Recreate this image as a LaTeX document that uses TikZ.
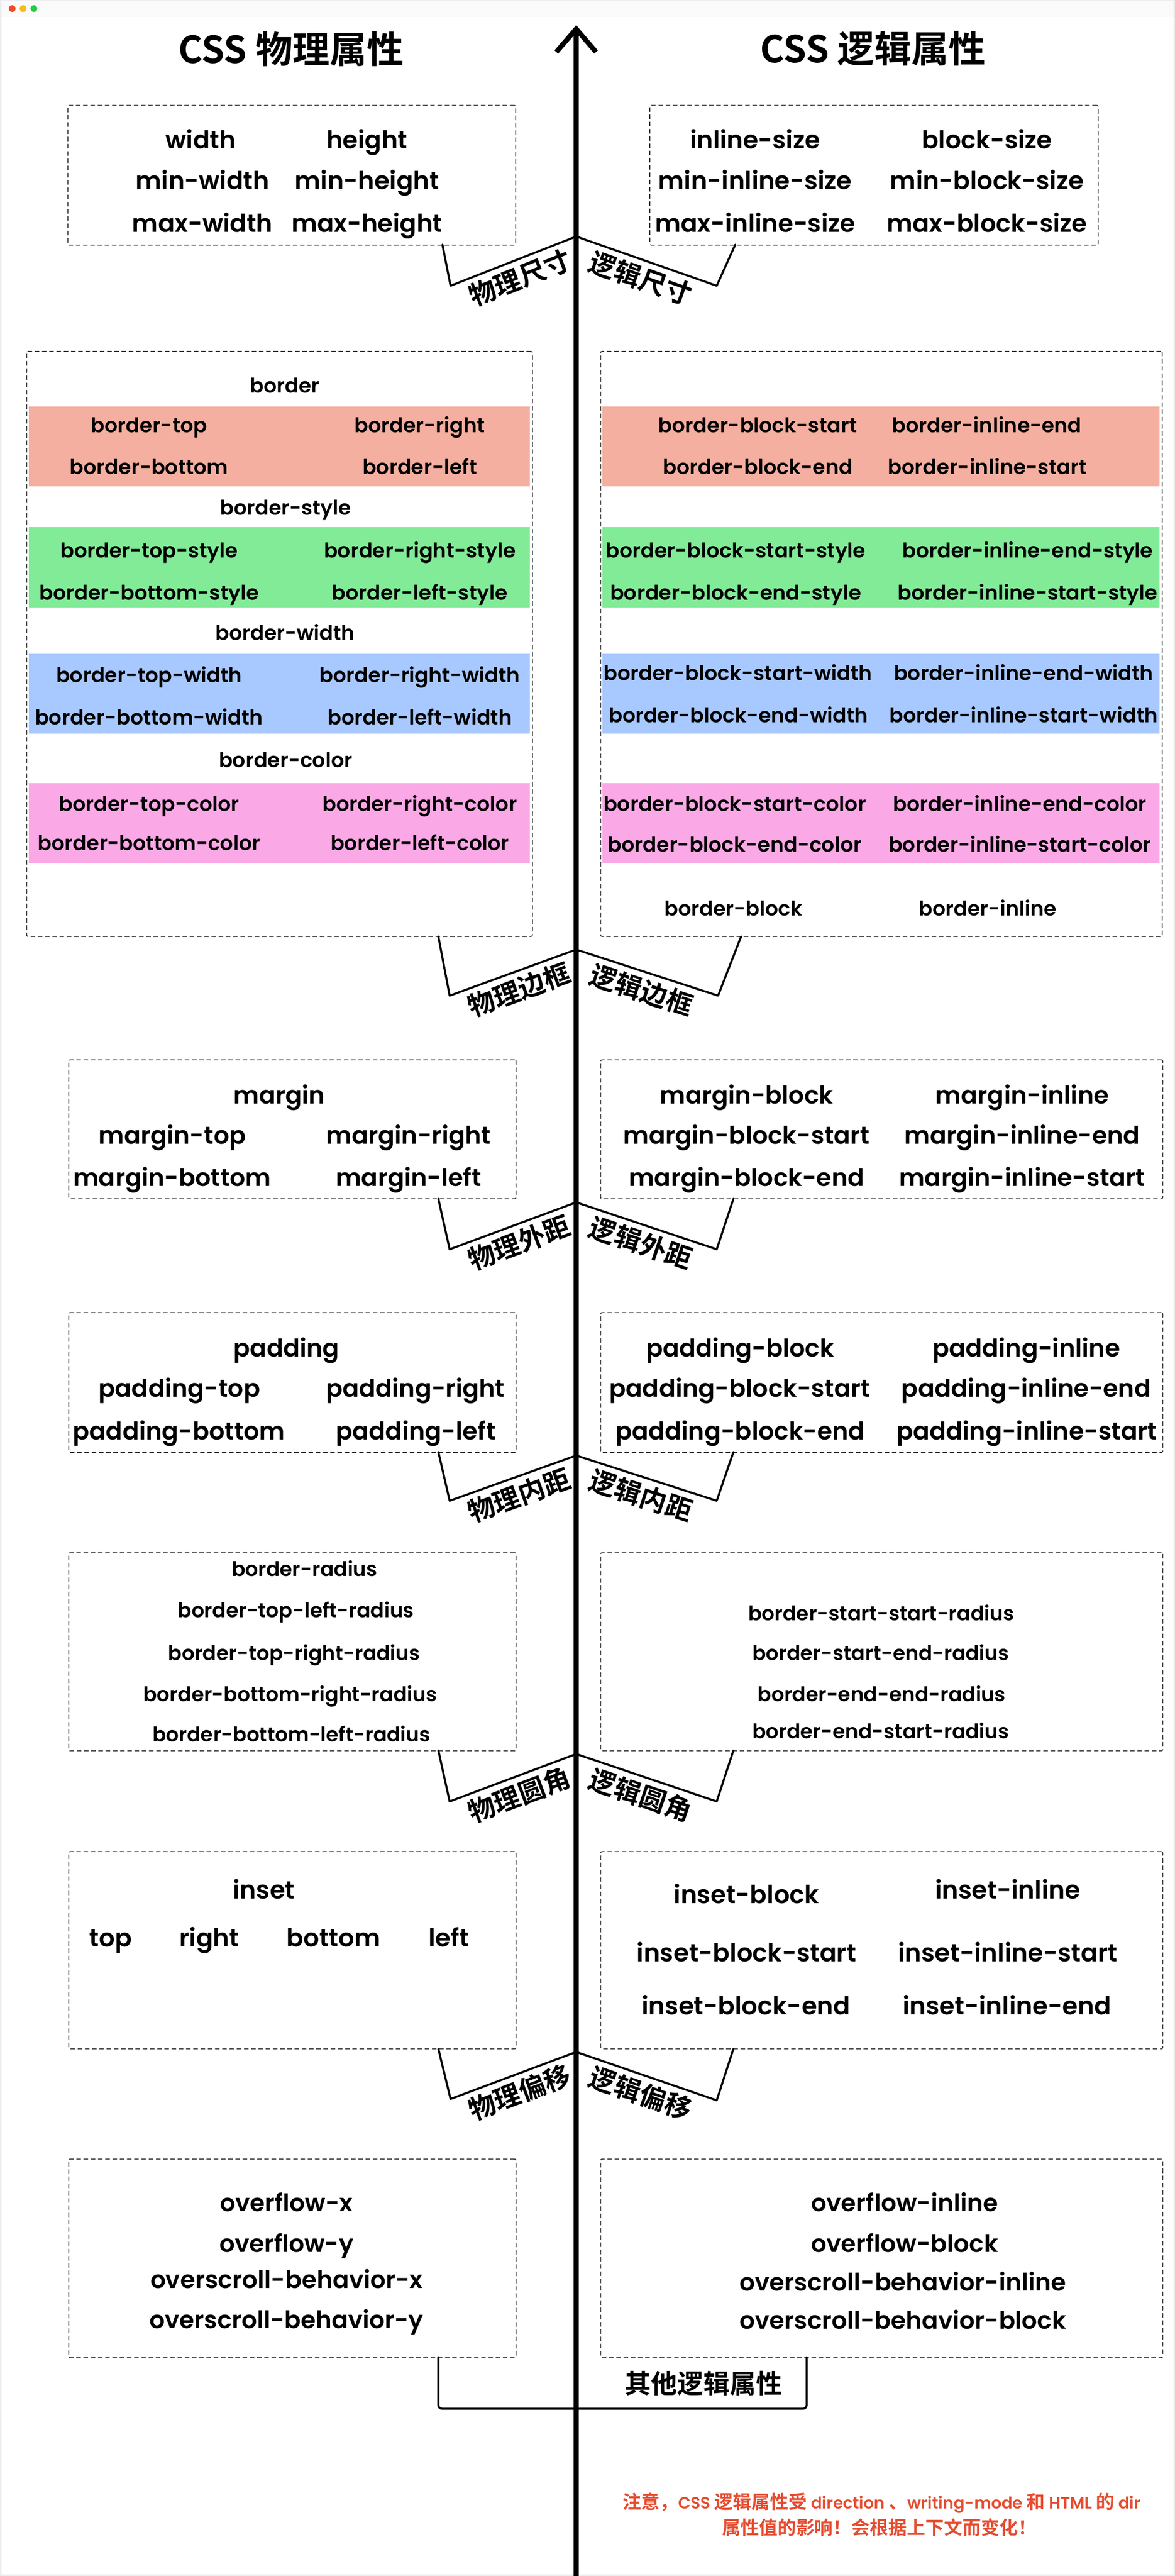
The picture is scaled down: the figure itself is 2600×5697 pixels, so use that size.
\documentclass[tikz,border=0pt]{standalone}
\usepackage{fontspec}
\setmainfont{Poppins}[UprightFont=* SemiBold, BoldFont=* Bold]
\newfontfamily\cjk{Noto Sans CJK SC}[UprightFont=* Bold]
\usetikzlibrary{calc}
\definecolor{bandred}{HTML}{F4AFA0}
\definecolor{bandgreen}{HTML}{82EB97}
\definecolor{bandblue}{HTML}{A8C9FF}
\definecolor{bandpink}{HTML}{FAA9E6}
\definecolor{notered}{HTML}{E64B2E}
\definecolor{dotred}{HTML}{EE4A2A}
\definecolor{dotyellow}{HTML}{FBBB17}
\definecolor{dotgreen}{HTML}{22CC44}
\newcommand\fsz[1]{\fontsize{#1}{#1}\selectfont}
\newcounter{tn}
\newcommand\tx[4]{\stepcounter{tn}\node[#1] (t\arabic{tn}) at (#2,#3) {#4};}
\newcommand\boxat[5]{\node[box, minimum width=#4pt, minimum height=#5pt] (#1) at (#2,#3) {};}
\begin{document}
\begin{tikzpicture}[x=1pt,y=-1pt,
  box/.style={draw=black!80, line width=2pt, dash pattern=on 10pt off 6pt, rounded corners=3pt, inner sep=0pt, anchor=north west},
  txt/.style={inner sep=0pt, anchor=base, text=black},
  sA/.style={txt, font=\fsz{54.5}, yshift=-20pt},
  sB/.style={txt, font=\fsz{45}, yshift=-17pt},
  sC/.style={txt, font=\fsz{54}, yshift=-20pt},
  sR/.style={txt, font=\fsz{44.5}, yshift=-16.5pt},
  sI/.style={txt, font=\fsz{55}, yshift=-20pt},
  sJ/.style={txt, font=\fsz{55}, yshift=-20pt},
  sO/.style={txt, font=\fsz{53.5}, yshift=-20pt},
  brk/.style={line width=4.5pt, line join=round, line cap=round},
  lab/.style={sloped, anchor=north, inner sep=10pt, font=\cjk\fsz{59}},
  axis/.style={line width=11pt},
]
\useasboundingbox (0,0) rectangle (2600,5697);
\fill[white] (0,0) rectangle (2600,5697);
% window bar
\fill[black!2] (0,0) rectangle (2600,36);
\draw[black!8, line width=2pt] (0,36) -- (2600,36);
\draw[black!8, line width=3pt] (1.5,0) rectangle (2598.5,5695.5);
\fill[dotred] (27,19) circle (7.5);
\fill[dotyellow] (51,19) circle (7.5);
\fill[dotgreen] (75,19) circle (7.5);
% titles
\node[inner sep=0pt, font=\cjk\fsz{82}] (titleL) at (644,108) {CSS 物理属性};
\node[inner sep=0pt, font=\cjk\fsz{82}] (titleR) at (1932,108) {CSS 逻辑属性};
% axis
\coordinate (axtop) at (1275,64);
\coordinate (axbot) at (1275,5697);
\coordinate (ahl) at (1231,115);
\coordinate (ahr) at (1319,115);
\draw[axis] (axbot) -- (axtop);
\draw[axis, line join=miter] (ahl) -- (axtop) -- (ahr);

% ===== section 1 : size
\boxat{s1l}{149}{232}{991}{309}
\boxat{s1r}{1437}{232}{992}{309}
\tx{sA}{444}{309}{width}
\tx{sA}{812}{309}{height}
\tx{sA}{448}{399}{min-width}
\tx{sA}{812}{399}{min-height}
\tx{sA}{448}{493}{max-width}
\tx{sA}{812}{493}{max-height}
\tx{sA}{1671}{309}{inline-size}
\tx{sA}{2184}{309}{block-size}
\tx{sA}{1671}{399}{min-inline-size}
\tx{sA}{2184}{399}{min-block-size}
\tx{sA}{1671}{493}{max-inline-size}
\tx{sA}{2184}{493}{max-block-size}
\coordinate (a1) at (979,541); \coordinate (b1) at (997,632); \coordinate (v1) at (1275,523);
\coordinate (c1) at (1586,632); \coordinate (d1) at (1627,541);
\draw[brk] (a1) -- (b1) -- node[lab] {物理尺寸} (v1);
\draw[brk] (v1) -- node[lab] {逻辑尺寸} (c1) -- (d1);

% ===== section 2 : border
\boxat{s2l}{58}{776}{1119}{1294}
\boxat{s2r}{1328}{776}{1243}{1294}
\fill[bandred] (64,899) rectangle (1172,1076);
\fill[bandgreen] (64,1166) rectangle (1172,1343);
\fill[bandblue] (64,1446) rectangle (1172,1622);
\fill[bandpink] (64,1732) rectangle (1172,1908);
\fill[bandred] (1333,899) rectangle (2566,1076);
\fill[bandgreen] (1333,1166) rectangle (2566,1343);
\fill[bandblue] (1333,1446) rectangle (2566,1622);
\fill[bandpink] (1333,1732) rectangle (2566,1908);
\tx{sB}{630}{852}{border}
\tx{sB}{330}{939}{border-top}
\tx{sB}{929}{939}{border-right}
\tx{sB}{330}{1032}{border-bottom}
\tx{sB}{929}{1032}{border-left}
\tx{sB}{632}{1122}{border-style}
\tx{sB}{330}{1216}{border-top-style}
\tx{sB}{929}{1216}{border-right-style}
\tx{sB}{330}{1310}{border-bottom-style}
\tx{sB}{929}{1310}{border-left-style}
\tx{sB}{631}{1399}{border-width}
\tx{sB}{330}{1492}{border-top-width}
\tx{sB}{929}{1492}{border-right-width}
\tx{sB}{330}{1585}{border-bottom-width}
\tx{sB}{929}{1585}{border-left-width}
\tx{sB}{632}{1680}{border-color}
\tx{sB}{330}{1777}{border-top-color}
\tx{sB}{929}{1777}{border-right-color}
\tx{sB}{330}{1864}{border-bottom-color}
\tx{sB}{929}{1864}{border-left-color}
\tx{sB}{1677}{939}{border-block-start}
\tx{sB}{2184}{939}{border-inline-end}
\tx{sB}{1677}{1032}{border-block-end}
\tx{sB}{2185}{1032}{border-inline-start}
\tx{sB}{1628}{1216}{border-block-start-style}
\tx{sB}{2274}{1216}{border-inline-end-style}
\tx{sB}{1628}{1310}{border-block-end-style}
\tx{sB}{2274}{1310}{border-inline-start-style}
\tx{sB}{1633}{1488}{border-block-start-width}
\tx{sB}{2265}{1488}{border-inline-end-width}
\tx{sB}{1634}{1581}{border-block-end-width}
\tx{sB}{2265}{1581}{border-inline-start-width}
\tx{sB}{1626}{1777}{border-block-start-color}
\tx{sB}{2257}{1777}{border-inline-end-color}
\tx{sB}{1626}{1867}{border-block-end-color}
\tx{sB}{2257}{1867}{border-inline-start-color}
\tx{sB}{1623}{2008}{border-block}
\tx{sB}{2186}{2008}{border-inline}
\coordinate (a2) at (970,2071); \coordinate (b2) at (995,2202); \coordinate (v2) at (1275,2100);
\coordinate (c2) at (1589,2202); \coordinate (d2) at (1640,2071);
\draw[brk] (a2) -- (b2) -- node[lab] {物理边框} (v2);
\draw[brk] (v2) -- node[lab] {逻辑边框} (c2) -- (d2);

% ===== section 3 : margin
\boxat{s3l}{151}{2343}{990}{307}
\boxat{s3r}{1328}{2343}{1244}{307}
\tx{sC}{618}{2421}{margin}
\tx{sC}{381}{2510}{margin-top}
\tx{sC}{904}{2510}{margin-right}
\tx{sC}{381}{2604}{margin-bottom}
\tx{sC}{904}{2604}{margin-left}
\tx{sC}{1652}{2421}{margin-block}
\tx{sC}{2262}{2421}{margin-inline}
\tx{sC}{1652}{2510}{margin-block-start}
\tx{sC}{2262}{2510}{margin-inline-end}
\tx{sC}{1652}{2604}{margin-block-end}
\tx{sC}{2262}{2604}{margin-inline-start}
\coordinate (a3) at (970,2651); \coordinate (b3) at (995,2763); \coordinate (v3) at (1275,2659);
\coordinate (c3) at (1586,2763); \coordinate (d3) at (1623,2651);
\draw[brk] (a3) -- (b3) -- node[lab] {物理外距} (v3);
\draw[brk] (v3) -- node[lab] {逻辑外距} (c3) -- (d3);

% ===== section 4 : padding
\boxat{s4l}{151}{2902}{990}{309}
\boxat{s4r}{1328}{2902}{1244}{309}
\tx{sC}{634}{2980}{padding}
\tx{sC}{397}{3070}{padding-top}
\tx{sC}{919}{3070}{padding-right}
\tx{sC}{396}{3164}{padding-bottom}
\tx{sC}{920}{3164}{padding-left}
\tx{sC}{1638}{2980}{padding-block}
\tx{sC}{2271}{2980}{padding-inline}
\tx{sC}{1637}{3070}{padding-block-start}
\tx{sC}{2271}{3070}{padding-inline-end}
\tx{sC}{1638}{3164}{padding-block-end}
\tx{sC}{2272}{3164}{padding-inline-start}
\coordinate (a4) at (970,3211); \coordinate (b4) at (995,3319); \coordinate (v4) at (1275,3219);
\coordinate (c4) at (1586,3319); \coordinate (d4) at (1623,3211);
\draw[brk] (a4) -- (b4) -- node[lab] {物理内距} (v4);
\draw[brk] (v4) -- node[lab] {逻辑内距} (c4) -- (d4);

% ===== section 5 : radius
\boxat{s5l}{151}{3433}{990}{438}
\boxat{s5r}{1328}{3433}{1244}{438}
\tx{sR}{674}{3470}{border-radius}
\tx{sR}{655}{3561}{border-top-left-radius}
\tx{sR}{651}{3655}{border-top-right-radius}
\tx{sR}{642}{3746}{border-bottom-right-radius}
\tx{sR}{645}{3835}{border-bottom-left-radius}
\tx{sR}{1950}{3568}{border-start-start-radius}
\tx{sR}{1949}{3655}{border-start-end-radius}
\tx{sR}{1951}{3746}{border-end-end-radius}
\tx{sR}{1949}{3828}{border-end-start-radius}
\coordinate (a5) at (970,3871); \coordinate (b5) at (995,3984); \coordinate (v5) at (1275,3879);
\coordinate (c5) at (1586,3984); \coordinate (d5) at (1623,3871);
\draw[brk] (a5) -- (b5) -- node[lab] {物理圆角} (v5);
\draw[brk] (v5) -- node[lab] {逻辑圆角} (c5) -- (d5);

% ===== section 6 : inset
\boxat{s6l}{151}{4094}{990}{436}
\boxat{s6r}{1328}{4094}{1244}{436}
\tx{sI}{584}{4179}{inset}
\tx{sI}{245}{4285}{top}
\tx{sI}{463}{4285}{right}
\tx{sI}{738}{4285}{bottom}
\tx{sI}{993}{4285}{left}
\tx{sJ}{1652}{4190}{inset-block}
\tx{sJ}{2230}{4179}{inset-inline}
\tx{sJ}{1652}{4318}{inset-block-start}
\tx{sJ}{2230}{4318}{inset-inline-start}
\tx{sJ}{1651}{4436}{inset-block-end}
\tx{sJ}{2228}{4436}{inset-inline-end}
\coordinate (a6) at (970,4531); \coordinate (b6) at (997,4642); \coordinate (v6) at (1275,4538);
\coordinate (c6) at (1586,4645); \coordinate (d6) at (1623,4531);
\draw[brk] (a6) -- (b6) -- node[lab] {物理偏移} (v6);
\draw[brk] (v6) -- node[lab] {逻辑偏移} (c6) -- (d6);

% ===== section 7 : overflow
\boxat{s7l}{151}{4774}{990}{439}
\boxat{s7r}{1328}{4774}{1244}{439}
\tx{sO}{634}{4871}{overflow-x}
\tx{sO}{634}{4961}{overflow-y}
\tx{sO}{634}{5041}{overscroll-behavior-x}
\tx{sO}{634}{5130}{overscroll-behavior-y}
\tx{sO}{2002}{4871}{overflow-inline}
\tx{sO}{2002}{4961}{overflow-block}
\tx{sO}{1998}{5046}{overscroll-behavior-inline}
\tx{sO}{1998}{5131}{overscroll-behavior-block}
\coordinate (a7) at (970,5213); \coordinate (b7) at (970,5327);
\coordinate (c7) at (1785,5327); \coordinate (d7) at (1785,5213);
\draw[brk, rounded corners=8pt] (a7) -- (b7) -- (c7) -- (d7);
\node[inner sep=0pt, font=\cjk\fsz{58}] (other) at (1557,5271) {其他逻辑属性};

% ===== note
\node[inner sep=0pt, text=notered, font=\fsz{36}] (note1) at (1951,5536)
  {{\cjk\fsz{41}注意，}CSS {\cjk\fsz{41}逻辑属性受} direction {\cjk\fsz{41}、}writing-mode {\cjk\fsz{41}和} HTML {\cjk\fsz{41}的} dir};
\node[inner sep=0pt, text=notered, font=\cjk\fsz{41}] (note2) at (1946,5590)
  {属性值的影响！会根据上下文而变化！};
\end{tikzpicture}
\end{document}
